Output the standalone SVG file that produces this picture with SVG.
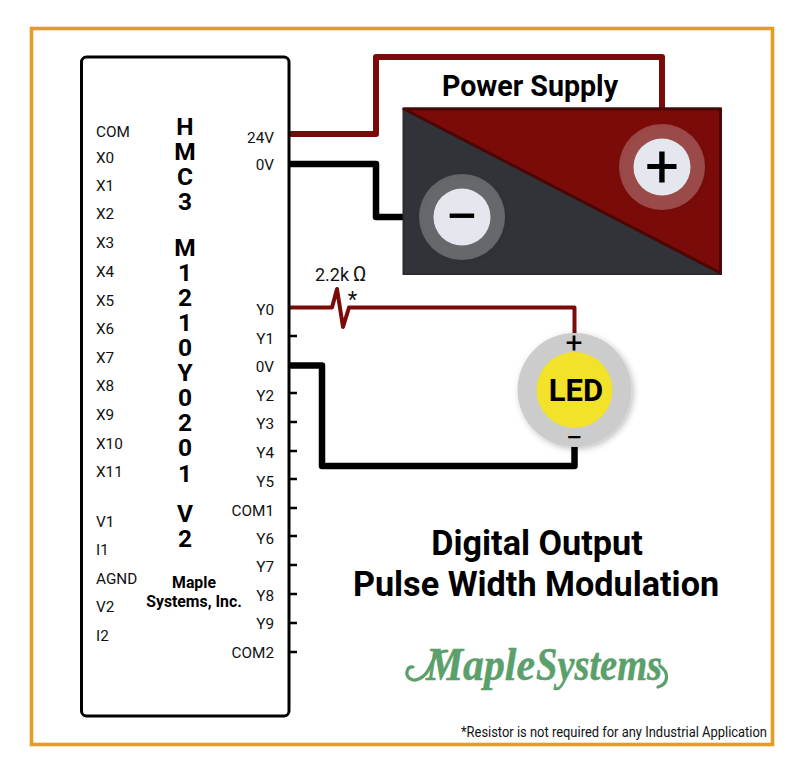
<svg xmlns="http://www.w3.org/2000/svg" width="806" height="773" viewBox="0 0 806 773">
<style>
text{font-family:Roboto,"Liberation Sans",sans-serif;fill:#111}
.l{font-size:15.300px}
.r{font-size:15.300px;text-anchor:end}
.t{font-size:24.500px;font-weight:700;text-anchor:middle;fill:#000}
.b{font-weight:700;text-anchor:middle;fill:#000}
.s{font-weight:400;text-anchor:middle;fill:#000}
.w{fill:none;stroke-linejoin:round;stroke-linecap:butt}
.tick{stroke:#000;stroke-width:2.5}
.logo{font-family:'Liberation Serif',serif;fill:#5B9F6A;stroke:#5B9F6A;stroke-width:.5px;font-style:italic;font-weight:700;font-size:46px}
</style>
<defs>
<filter id="sh" x="-30%" y="-30%" width="160%" height="160%"><feDropShadow dx="2" dy="2" stdDeviation="3" flood-color="#000" flood-opacity=".25"/></filter>
</defs>
<rect width="806" height="773" fill="#fff"/>
<rect x="31.500" y="28.500" width="741" height="716" fill="#fff" stroke="#E29E24" stroke-width="3.600"/>
<g id="connectors">
<path class="w" d="M290 134H376V57H662V110" stroke="#7A0B09" stroke-width="6"/>
<path class="w" d="M290 164H376V217H405" stroke="#000" stroke-width="6.500"/>
<path class="w" d="M290 307.500H332L337 289L343 327L349 307.500H574.500V335" stroke="#7A0B09" stroke-width="4"/>
<path class="w" d="M290 365.500H322V466H574.500V445" stroke="#000" stroke-width="6.500"/>
<path class="tick" d="M289 336H297M289 393H297M289 422H297M289 451H297M289 479H297M289 508H297M289 536H297M289 565H297M289 594H297M289 623H297M289 652H297"/>
</g>
<g id="plc">
<rect x="81.500" y="57" width="207.500" height="659" rx="5" fill="#fff" stroke="#000" stroke-width="3"/>
<text class="l" x="96" y="136.500">COM</text><text class="l" x="96" y="162.500">X0</text><text class="l" x="96" y="190.500">X1</text><text class="l" x="96" y="219">X2</text><text class="l" x="96" y="248">X3</text><text class="l" x="96" y="276.500">X4</text><text class="l" x="96" y="305.500">X5</text><text class="l" x="96" y="333.500">X6</text><text class="l" x="96" y="362.500">X7</text><text class="l" x="96" y="391">X8</text><text class="l" x="96" y="419.500">X9</text><text class="l" x="96" y="448.500">X10</text><text class="l" x="96" y="476.500">X11</text>
<text class="l" x="96" y="526.500">V1</text><text class="l" x="96" y="554.500">I1</text><text class="l" x="96" y="583.500">AGND</text><text class="l" x="96" y="612">V2</text><text class="l" x="96" y="640.500">I2</text>
<text class="r" x="274" y="143">24V</text><text class="r" x="274" y="170">0V</text><text class="r" x="274" y="315">Y0</text><text class="r" x="274" y="344">Y1</text><text class="r" x="274" y="372">0V</text><text class="r" x="274" y="401">Y2</text><text class="r" x="274" y="429">Y3</text><text class="r" x="274" y="458">Y4</text><text class="r" x="274" y="486.500">Y5</text><text class="r" x="274" y="515.500">COM1</text><text class="r" x="274" y="543.500">Y6</text><text class="r" x="274" y="572">Y7</text><text class="r" x="274" y="600.500">Y8</text><text class="r" x="274" y="629">Y9</text><text class="r" x="274" y="658">COM2</text>
<text class="t"><tspan x="185" y="135">H</tspan><tspan x="185" y="160">M</tspan><tspan x="185" y="185">C</tspan><tspan x="185" y="210">3</tspan><tspan x="185" y="256">M</tspan><tspan x="185" y="281">1</tspan><tspan x="185" y="306">2</tspan><tspan x="185" y="331">1</tspan><tspan x="185" y="356">0</tspan><tspan x="185" y="381">Y</tspan><tspan x="185" y="406">0</tspan><tspan x="185" y="431">2</tspan><tspan x="185" y="456">0</tspan><tspan x="185" y="482">1</tspan><tspan x="185" y="522">V</tspan><tspan x="185" y="547">2</tspan></text>
<text class="b" x="194" y="588" font-size="15.800">Maple</text><text class="b" x="194" y="607" font-size="15.800">Systems, Inc.</text>
</g>
<g id="power-supply">
<text class="b" x="530" y="96" font-size="28.600">Power Supply</text>
<rect x="403.500" y="108.500" width="317.500" height="165.500" fill="#323338" stroke="#2A2B2F" stroke-width="2"/>
<path d="M404 109H720.500V273Z" fill="#7A0B09" stroke="#4A0706" stroke-width="3" stroke-linejoin="round"/>
<g filter="url(#sh)"><circle cx="662" cy="167" r="43" fill="#fff" fill-opacity=".24"/></g>
<circle cx="662" cy="167" r="28.500" fill="#E4E7EE"/>
<text class="s" x="662" y="187" font-size="60">+</text>
<g filter="url(#sh)"><circle cx="462" cy="217" r="43" fill="#fff" fill-opacity=".24"/></g>
<circle cx="462" cy="217" r="28.500" fill="#E4E7EE"/>
<text class="s" x="462" y="237" font-size="60">−</text>
</g>
<g id="led">
<circle cx="574.500" cy="390" r="57" fill="#CCCCCC" filter="url(#sh)"/>
<circle cx="574.500" cy="390" r="38" fill="#F2E229"/>
<text class="b" x="576" y="400.500" font-size="31">LED</text>
<text class="s" x="574" y="353" font-size="30">+</text>
<text class="s" x="574" y="448" font-size="30">−</text>
</g>
<g id="labels">
<text x="315" y="281" font-size="18">2.2k</text><text x="353" y="281" font-size="20">Ω</text>
<text x="352.500" y="307" font-size="22" text-anchor="middle">*</text>
<text class="b" x="537" y="554.500" font-size="34.200">Digital Output</text>
<text class="b" x="536" y="595.500" font-size="34.200">Pulse Width Modulation</text>
<text x="767" y="736.500" font-size="14" text-anchor="end" textLength="306" lengthAdjust="spacingAndGlyphs">*Resistor is not required for any Industrial Application</text>
</g>
<g id="logo">
<path d="M413 667C407 666 405 674 409 678C415 683 425 678 430 667C434 658 438 651 447 651" fill="none" stroke="#5B9F6A" stroke-width="3.200" stroke-linecap="round"/>
<text class="logo" x="426" y="680" textLength="109" lengthAdjust="spacingAndGlyphs">Maple</text>
<text class="logo" x="536" y="680" textLength="126" lengthAdjust="spacingAndGlyphs">Systems</text>
<path d="M660 666C669 672 669 684 658 687" fill="none" stroke="#5B9F6A" stroke-width="3.200" stroke-linecap="round"/>
</g>
</svg>
